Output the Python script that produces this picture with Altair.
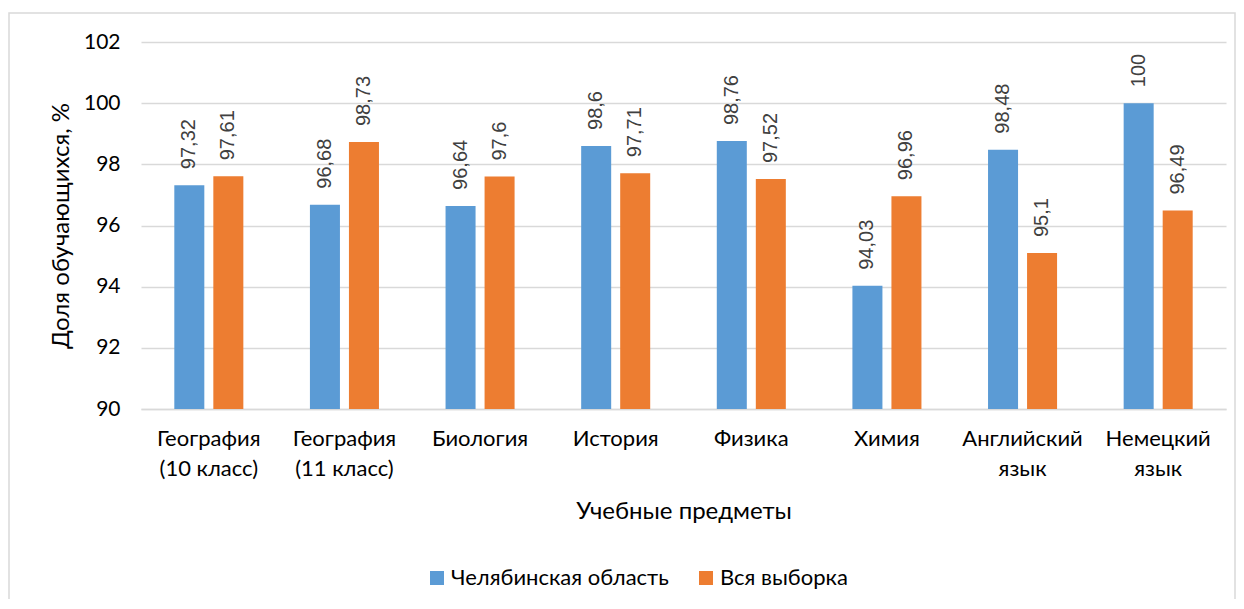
import altair as alt
import pandas as pd

subjects = ["География\n(10 класс)", "География\n(11 класс)", "Биология", "История",
            "Физика", "Химия", "Английский\nязык", "Немецкий\nязык"]
series = ["Челябинская область", "Вся выборка"]
chel = [97.32, 96.68, 96.64, 98.6, 98.76, 94.03, 98.48, 100]
vsya = [97.61, 98.73, 97.6, 97.71, 97.52, 96.96, 95.1, 96.49]
colors = ["#5B9BD5", "#ED7D31"]
y_ticks = [90, 92, 94, 96, 98, 100, 102]

rows = []
for s, a, b in zip(subjects, chel, vsya):
    rows.append({"subject": s, "series": series[0], "value": a})
    rows.append({"subject": s, "series": series[1], "value": b})
df = pd.DataFrame(rows)

FONT = "Lato"

x = alt.X("subject:N", sort=subjects,
          scale=alt.Scale(paddingInner=0.491, paddingOuter=0.2456),
          axis=alt.Axis(title="Учебные предметы", labelAngle=0,
                        labelExpr="split(datum.label, '\\n')",
                        labelFont=FONT, labelFontSize=22, labelColor="#000000",
                        labelLineHeight=30, labelBaseline="top", labelPadding=19,
                        ticks=False, domainColor="#d9d9d9", domainWidth=1.5,
                        titleFont=FONT, titleFontSize=24, titleFontWeight="normal",
                        titleColor="#000000", titlePadding=20))
xo = alt.XOffset("series:N", sort=series,
                 scale=alt.Scale(paddingInner=0.2308, paddingOuter=0))
y = alt.Y("value:Q",
          scale=alt.Scale(domain=[90, 102], zero=False, nice=False),
          axis=alt.Axis(title="Доля обучающихся, %", values=y_ticks,
                        labelFont=FONT, labelFontSize=21, labelColor="#000000",
                        labelPadding=21, ticks=False, domain=False,
                        gridColor="#d9d9d9", gridWidth=1.5,
                        titleFont=FONT, titleFontSize=24, titleFontWeight="normal",
                        titleColor="#000000", titlePadding=10))
color = alt.Color("series:N", sort=series,
                  scale=alt.Scale(domain=series, range=colors),
                  legend=alt.Legend(title=None, orient="none", direction="horizontal",
                                    legendX=285, legendY=525,
                                    symbolType="square", symbolSize=196,
                                    symbolStrokeWidth=0, labelLimit=0,
                                    labelFont=FONT, labelFontSize=22, labelColor="#000000",
                                    columnPadding=26, labelOffset=3))

frame = alt.Chart(pd.DataFrame({"f": [0]})).mark_rect(
    fill=None, stroke="#d9d9d9", strokeWidth=1.5
).encode(x=alt.value(-132), x2=alt.value(1094), y=alt.value(-29), y2=alt.value(600))

bars = alt.Chart(df).mark_bar().encode(
    x=x, xOffset=xo, y=y, y2=alt.Y2(datum=90), color=color
)

labels = alt.Chart(df).transform_calculate(
    lab="replace(toString(datum.value), '.', ',')"
).mark_text(angle=270, align="left", baseline="middle", dx=16,
            font="Liberation Sans", fontSize=20, color="#404040").encode(
    x=alt.X("subject:N", sort=subjects), xOffset=xo, y=alt.Y("value:Q"),
    text="lab:N"
)

chart = alt.layer(frame, bars, labels).properties(
    width=1085, height=367,
    autosize=alt.AutoSizeParams(type="none"),
    padding={"left": 133, "top": 34, "right": 10, "bottom": 190},
).configure_view(stroke=None)

chart.save("out.html", embed_options={"renderer": "svg", "actions": False})
